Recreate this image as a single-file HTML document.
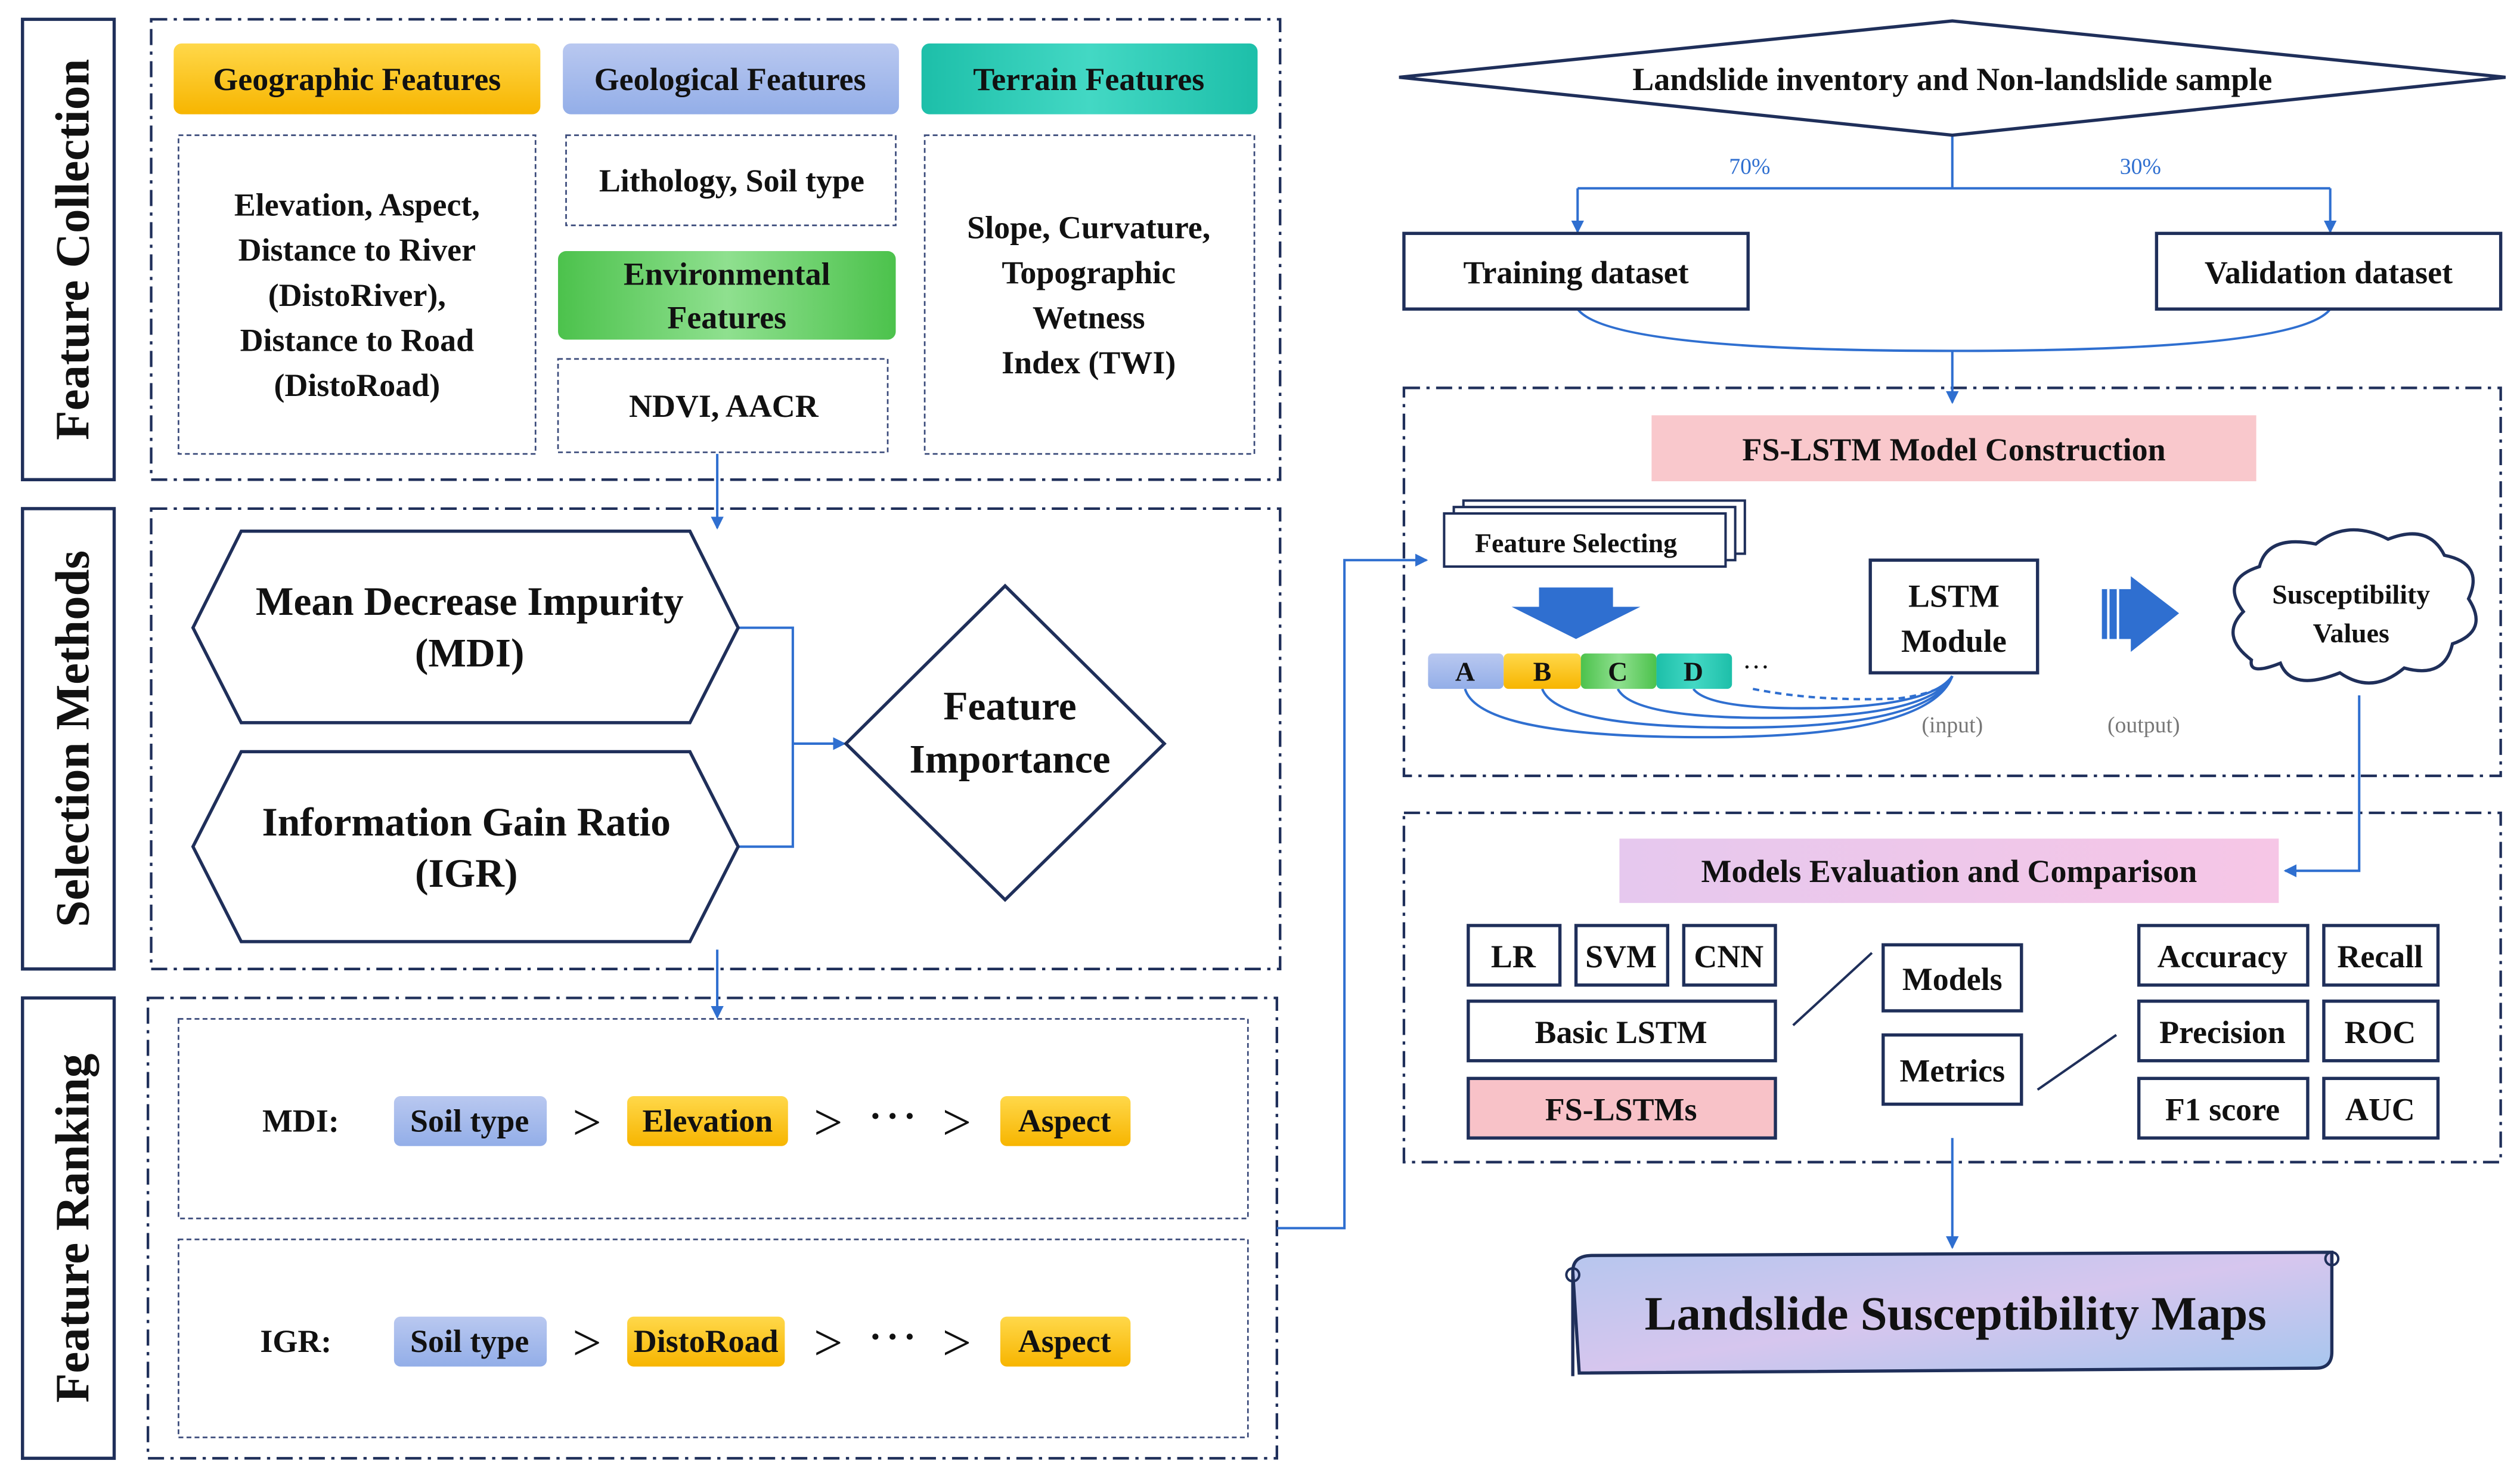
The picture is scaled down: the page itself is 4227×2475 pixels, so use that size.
<!DOCTYPE html>
<html><head><meta charset="utf-8"><style>html,body{margin:0;padding:0;background:#fff}svg{display:block}</style></head>
<body>
<svg xmlns="http://www.w3.org/2000/svg" width="4227" height="2475" viewBox="0 0 1567 917" preserveAspectRatio="none" font-family="Liberation Serif, serif" font-weight="bold">
<defs>
<linearGradient id="gO" x1="0" y1="0" x2="0" y2="1"><stop offset="0" stop-color="#ffd84a"/><stop offset="1" stop-color="#f7b500"/></linearGradient>
<linearGradient id="gB" x1="0" y1="0" x2="0" y2="1"><stop offset="0" stop-color="#b9c8f0"/><stop offset="1" stop-color="#93aee8"/></linearGradient>
<linearGradient id="gT" x1="0" y1="0" x2="1" y2="0"><stop offset="0" stop-color="#1dbfa9"/><stop offset="0.5" stop-color="#43d8c4"/><stop offset="1" stop-color="#1dbfa9"/></linearGradient>
<linearGradient id="gG" x1="0" y1="0" x2="1" y2="0"><stop offset="0" stop-color="#4cc24c"/><stop offset="0.5" stop-color="#8fe08f"/><stop offset="1" stop-color="#4cc24c"/></linearGradient>
<linearGradient id="gP" x1="0" y1="0" x2="1" y2="0"><stop offset="0" stop-color="#e6c8ee"/><stop offset="1" stop-color="#f6c6e6"/></linearGradient>
<linearGradient id="gS" x1="0" y1="0" x2="1" y2="1"><stop offset="0" stop-color="#b6c6ee"/><stop offset="0.5" stop-color="#d6c6ee"/><stop offset="1" stop-color="#a6c6ee"/></linearGradient>
<marker id="ar" markerWidth="8" markerHeight="8" refX="7" refY="4" orient="auto" markerUnits="userSpaceOnUse"><path d="M0,0 L8,4 L0,8 z" fill="#2f6fd0"/></marker>
</defs>
<g fill="none" stroke="#1f2f5a" stroke-width="2">
<rect x="14" y="12" width="57" height="286"/><rect x="14" y="316" width="57" height="286"/><rect x="14" y="620" width="57" height="286"/>
</g>
<g font-size="30" fill="#111" text-anchor="middle">
<text transform="translate(55,155) rotate(-90)">Feature Collection</text>
<text transform="translate(55,459) rotate(-90)">Selection Methods</text>
<text transform="translate(55,763) rotate(-90)">Feature Ranking</text>
</g>
<g fill="none" stroke="#1f2f5a" stroke-width="1.6" stroke-dasharray="10,4,2,4">
<rect x="94" y="12" width="702" height="286"/><rect x="94" y="316" width="702" height="286"/><rect x="92" y="620" width="702" height="286"/>
<rect x="873" y="241" width="682" height="241"/><rect x="873" y="505" width="682" height="217"/>
</g>
<g fill="none" stroke="#3a4a7a" stroke-width="1" stroke-dasharray="3,2">
<rect x="111" y="84" width="222" height="198"/><rect x="352" y="84" width="205" height="56"/><rect x="347" y="223" width="205" height="58"/><rect x="575" y="84" width="205" height="198"/>
<rect x="111" y="633" width="665" height="124"/><rect x="111" y="770" width="665" height="123"/>
</g>
<rect x="108" y="27" width="228" height="44" rx="5" fill="url(#gO)"/>
<rect x="350" y="27" width="209" height="44" rx="5" fill="url(#gB)"/>
<rect x="573" y="27" width="209" height="44" rx="5" fill="url(#gT)"/>
<rect x="347" y="156" width="210" height="55" rx="5" fill="url(#gG)"/>
<g font-size="20" fill="#111" text-anchor="middle">
<text x="222" y="56">Geographic Features</text><text x="454" y="56">Geological Features</text><text x="677" y="56">Terrain Features</text>
<text x="452" y="177">Environmental</text><text x="452" y="204">Features</text>
<text x="222" y="134">Elevation, Aspect,</text><text x="222" y="162">Distance to River</text><text x="222" y="190">(DistoRiver),</text><text x="222" y="218">Distance to Road</text><text x="222" y="246">(DistoRoad)</text>
<text x="455" y="119">Lithology, Soil type</text><text x="450" y="259">NDVI, AACR</text>
<text x="677" y="148">Slope, Curvature,</text><text x="677" y="176">Topographic</text><text x="677" y="204">Wetness</text><text x="677" y="232">Index (TWI)</text>
</g>
<g stroke="#2f6fd0" stroke-width="1.5" fill="none">
<path d="M446 282 V328" marker-end="url(#ar)"/><path d="M446 590 V632" marker-end="url(#ar)"/>
<path d="M459 390 H493 V526 H459"/><path d="M493 462 H525" marker-end="url(#ar)"/>
<path d="M794 763 H836 V348 H887" marker-end="url(#ar)"/>
<path d="M1214 84 V117 M981 117 H1449"/><path d="M981 117 V144" marker-end="url(#ar)"/><path d="M1449 117 V144" marker-end="url(#ar)"/>
<path d="M981 192 Q1000 218 1214 218 Q1430 218 1449 192"/><path d="M1214 218 V250" marker-end="url(#ar)"/>
<path d="M1467 432 V541 H1421" marker-end="url(#ar)"/>
<path d="M1214 707 V775" marker-end="url(#ar)"/>
<path d="M911 428 Q920 458 1060 458 Q1200 458 1214 420"/>
<path d="M959 428 Q968 452 1080 452 Q1200 452 1214 420"/>
<path d="M1006 428 Q1015 446 1100 446 Q1200 446 1214 420"/>
<path d="M1053 428 Q1062 440 1120 440 Q1200 440 1214 420"/>
<path d="M1090 428 Q1130 436 1180 434 Q1210 430 1214 420" stroke-dasharray="4,3"/>
</g>
<g fill="#fff" stroke="#1f2f5a" stroke-width="2">
<polygon points="150,330 429,330 459,390 429,449 150,449 120,390"/>
<polygon points="150,467 429,467 459,526 429,585 150,585 120,526"/>
<polygon points="625,364 724,462 625,559 526,462"/>
<polygon points="870,48 1214,13 1558,48 1214,84"/>
<rect x="873" y="145" width="214" height="47"/><rect x="1341" y="145" width="214" height="47"/>
<rect x="1163" y="348" width="104" height="70"/>
<rect x="913" y="575" width="57" height="37"/><rect x="980" y="575" width="57" height="37"/><rect x="1047" y="575" width="57" height="37"/>
<rect x="913" y="622" width="191" height="37"/><rect x="913" y="670" width="191" height="37" fill="#f8c2c8"/>
<rect x="1171" y="587" width="86" height="41"/><rect x="1171" y="643" width="86" height="43"/>
<rect x="1330" y="575" width="105" height="37"/><rect x="1445" y="575" width="71" height="37"/>
<rect x="1330" y="622" width="105" height="37"/><rect x="1445" y="622" width="71" height="37"/>
<rect x="1330" y="670" width="105" height="37"/><rect x="1445" y="670" width="71" height="37"/>
<rect x="910" y="311" width="175" height="33" stroke-width="1.5"/><rect x="904" y="315" width="175" height="33" stroke-width="1.5"/><rect x="898" y="319" width="175" height="33" stroke-width="1.5"/>
</g>
<g stroke="#1f2f5a" stroke-width="1.5"><line x1="1115" y1="637" x2="1164" y2="592"/><line x1="1267" y1="677" x2="1316" y2="643"/></g>
<g font-size="25" fill="#111" text-anchor="middle">
<text x="292" y="382">Mean Decrease Impurity</text><text x="292" y="414">(MDI)</text>
<text x="290" y="519">Information Gain Ratio</text><text x="290" y="551">(IGR)</text>
<text x="628" y="447">Feature</text><text x="628" y="480">Importance</text>
</g>
<g font-size="20" fill="#111" text-anchor="middle">
<text x="187" y="703">MDI:</text><text x="184" y="840">IGR:</text>
</g>
<rect x="245" y="681" width="95" height="31" rx="4" fill="url(#gB)"/><rect x="390" y="681" width="100" height="31" rx="4" fill="url(#gO)"/><rect x="622" y="681" width="81" height="31" rx="4" fill="url(#gO)"/>
<rect x="245" y="818" width="95" height="31" rx="4" fill="url(#gB)"/><rect x="390" y="818" width="98" height="31" rx="4" fill="url(#gO)"/><rect x="622" y="818" width="81" height="31" rx="4" fill="url(#gO)"/>
<g font-size="20" fill="#111" text-anchor="middle">
<text x="292" y="703">Soil type</text><text x="292" y="840">Soil type</text>
<text x="440" y="703">Elevation</text><text x="662" y="703">Aspect</text>
<text x="439" y="840">DistoRoad</text><text x="662" y="840">Aspect</text>
</g>
<g font-size="32" fill="#111" text-anchor="middle" font-weight="normal">
<text x="365" y="708">&gt;</text><text x="515" y="708">&gt;</text><text x="555" y="704">···</text><text x="595" y="708">&gt;</text>
<text x="365" y="845">&gt;</text><text x="515" y="845">&gt;</text><text x="555" y="841">···</text><text x="595" y="845">&gt;</text>
</g>
<rect x="1027" y="258" width="376" height="41" fill="#f9c8cc"/>
<rect x="1007" y="521" width="410" height="40" fill="url(#gP)"/>
<g font-size="20" fill="#111" text-anchor="middle">
<text x="1214" y="56">Landslide inventory and Non-landslide sample</text>
<text x="980" y="176">Training dataset</text><text x="1448" y="176">Validation dataset</text>
<text x="1215" y="286">FS-LSTM Model Construction</text>
<text x="1212" y="548">Models Evaluation and Comparison</text>
<text x="1215" y="377">LSTM</text><text x="1215" y="405">Module</text>
<text x="941" y="601">LR</text><text x="1008" y="601">SVM</text><text x="1075" y="601">CNN</text>
<text x="1008" y="648">Basic LSTM</text><text x="1008" y="696">FS-LSTMs</text>
<text x="1214" y="615">Models</text><text x="1214" y="672">Metrics</text>
<text x="1382" y="601">Accuracy</text><text x="1480" y="601">Recall</text>
<text x="1382" y="648">Precision</text><text x="1480" y="648">ROC</text>
<text x="1382" y="696">F1 score</text><text x="1480" y="696">AUC</text>
</g>
<text x="980" y="343" font-size="17" text-anchor="middle" fill="#111">Feature Selecting</text>
<g font-size="14" fill="#2f6fd0" text-anchor="middle" font-weight="normal"><text x="1088" y="108">70%</text><text x="1331" y="108">30%</text></g>
<g font-size="14" fill="#777" text-anchor="middle" font-weight="normal"><text x="1214" y="455">(input)</text><text x="1333" y="455">(output)</text></g>
<polygon points="957,365 1003,365 1003,377 1020,377 980,397 940,377 957,377" fill="#2f6fd0"/>
<polygon points="1307,366 1325,366 1325,358 1355,381 1325,405 1325,397 1307,397" fill="#2f6fd0"/>
<g stroke="#fff" stroke-width="1.5"><line x1="1311" y1="366" x2="1311" y2="397"/><line x1="1317" y1="366" x2="1317" y2="397"/></g>
<rect x="888" y="406" width="47" height="22" rx="3" fill="url(#gB)"/><rect x="935" y="406" width="48" height="22" rx="3" fill="url(#gO)"/>
<rect x="983" y="406" width="47" height="22" rx="3" fill="url(#gG)"/><rect x="1030" y="406" width="47" height="22" rx="3" fill="url(#gT)"/>
<g font-size="17" fill="#111" text-anchor="middle"><text x="911" y="423">A</text><text x="959" y="423">B</text><text x="1006" y="423">C</text><text x="1053" y="423">D</text><text x="1092" y="420" font-weight="normal">···</text></g>
<path d="M1400 410 Q1380 395 1395 380 Q1380 360 1405 352 Q1410 332 1440 338 Q1460 322 1485 335 Q1510 325 1520 345 Q1545 350 1535 372 Q1548 392 1525 400 Q1520 422 1495 415 Q1475 432 1455 418 Q1425 430 1418 412 Q1398 420 1400 410 Z" fill="#fff" stroke="#1f2f5a" stroke-width="2"/>
<g font-size="17" fill="#111" text-anchor="middle"><text x="1462" y="375">Susceptibility</text><text x="1462" y="399">Values</text></g>
<path d="M978 790 Q978 780 990 780 L1450 778 L1450 840 Q1450 850 1440 850 L982 853 Z" fill="url(#gS)" stroke="#1f2f5a" stroke-width="2"/>
<path d="M978 790 V855 M1450 778 V785" stroke="#1f2f5a" stroke-width="2" fill="none"/>
<circle cx="978" cy="792" r="4" fill="none" stroke="#1f2f5a" stroke-width="1.5"/><circle cx="1450" cy="782" r="4" fill="none" stroke="#1f2f5a" stroke-width="1.5"/>
<text x="1216" y="826" font-size="30" text-anchor="middle" fill="#111">Landslide Susceptibility Maps</text>
</svg>
</body></html>
